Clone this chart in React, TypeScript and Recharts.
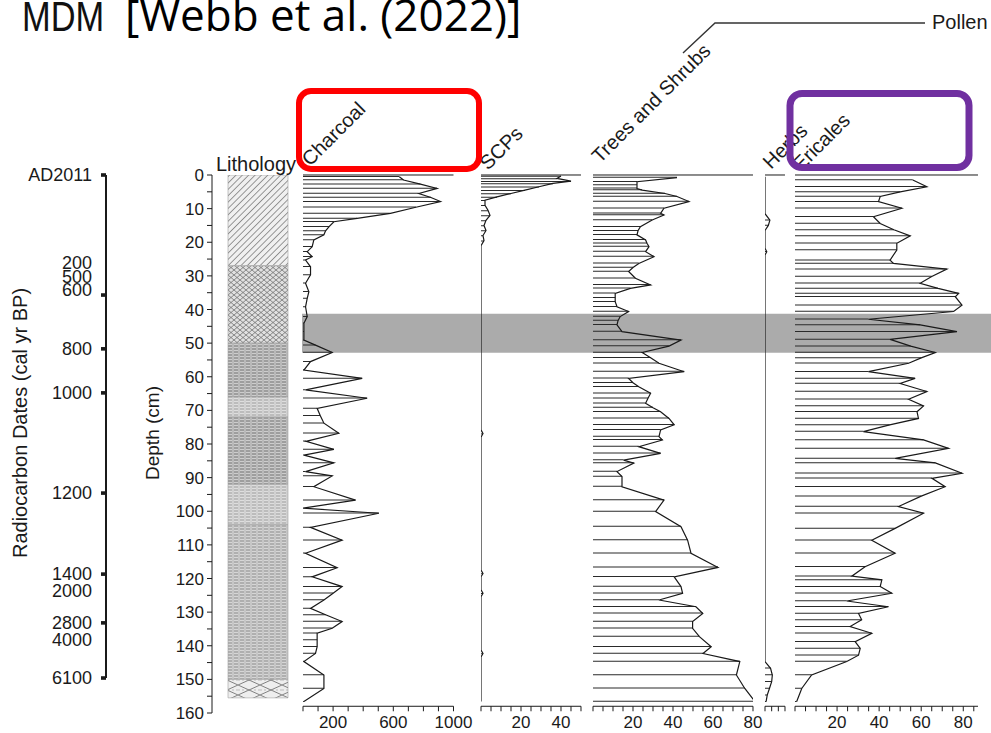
import React from 'react';
import { ComposedChart, BarChart, Bar, Line, XAxis, YAxis } from 'recharts';

// ---------------- data ----------------
const charcoalDepths = [0.5, 1.5, 2.7, 4.0, 5.5, 6.7, 7.9, 9.6, 11.4, 12.9, 13.9, 15.4, 16.6, 17.8, 19.3, 21.3, 22.8, 24.3, 25.3, 27.3, 29.7, 32.2, 34.7, 36.7, 39.2, 42.1, 44.1, 46.6, 49.1, 50.6, 52.8, 55.5, 58.0, 60.5, 63.9, 66.4, 69.4, 71.6, 73.8, 76.8, 79.2, 81.6, 83.3, 85.6, 88.2, 89.5, 92.7, 96.7, 99.1, 100.6, 104.8, 108.6, 112.5, 116.8, 119.5, 122.4, 124.4, 126.4, 128.9, 130.8, 132.8, 134.8, 136.3, 138.3, 140.3, 142.3, 144.7, 148.7, 152.7, 156.6];
const charcoalValues = [640, 668, 780, 891, 770, 850, 914, 750, 581, 360, 205, 172, 150, 139, 72, 61, 28, 61, 17, 50, 50, 17, 39, 28, 17, 28, 6, 6, 6, 83, 194, 50, 6, 393, 17, 426, 94, 115, 139, 238, 20, 205, 6, 205, 17, 194, 72, 349, 0, 504, 50, 260, 17, 227, 61, 260, 200, 139, 50, 150, 260, 194, 94, 94, 94, 83, 6, 139, 139, 6];
const charcoalTicks = [0, 100, 200, 300, 400, 500, 600, 700, 800, 900, 1000];
const charcoalTickLabels = [200, 600, 1000];

const scpDepths = [0.3, 1.0, 1.8, 2.5, 3.5, 4.5, 5.5, 6.5, 7.5, 9.0, 10.5, 12.0, 13.5, 15.0, 16.5, 18.0, 19.5, 21.0, 75.8, 76.9, 78.0, 117.5, 118.5, 119.5, 123.4, 124.4, 125.4, 141.3, 142.3, 143.3, 156.6];
const scpValues = [40, 38, 45, 36, 29, 22, 15, 8, 2, 2, 3.5, 4.5, 2.5, 1.5, 2.5, 1, 1.5, 0, 0, 1, 0, 0, 1, 0, 0, 1, 0, 0, 1, 0, 0];
const scpTicks = [0, 5, 10, 15, 20, 25, 30, 35, 40, 45, 50];
const scpTickLabels = [20, 40];

const treesDepths = [0.8, 2.0, 3.0, 4.0, 4.5, 5.5, 6.4, 7.9, 9.9, 11.4, 11.9, 13.4, 15.4, 16.6, 17.8, 19.3, 20.3, 21.3, 22.8, 24.3, 26.3, 27.5, 28.7, 30.7, 32.7, 33.7, 35.2, 36.5, 37.7, 39.2, 40.6, 42.1, 43.3, 44.6, 46.6, 49.1, 50.9, 52.8, 54.4, 56.0, 58.5, 60.5, 61.8, 63.0, 64.9, 66.4, 67.9, 69.2, 70.4, 72.4, 74.3, 75.8, 77.8, 78.8, 80.8, 82.8, 84.8, 85.7, 88.2, 89.7, 92.7, 96.7, 100.1, 104.6, 108.6, 112.5, 116.7, 119.5, 122.4, 124.4, 126.4, 128.4, 130.4, 132.8, 134.8, 137.3, 140.3, 142.3, 144.7, 148.7, 152.7, 156.6];
const treesValues = [42, 22, 22, 22, 24.6, 36, 42, 48, 35.5, 33.8, 35.5, 29.6, 23.7, 22.5, 22, 26.3, 27, 28, 26.3, 30.5, 22.9, 20, 17.8, 21.2, 28.8, 18.7, 11.1, 11.1, 11.1, 12, 17.8, 13.6, 12.5, 12, 14.5, 44, 38, 24.6, 29, 33, 45.6, 17.8, 20, 22.9, 28.8, 27.5, 26.3, 30, 33.8, 38, 40.6, 33.8, 33, 34.7, 22.9, 33.8, 15.3, 20.4, 12, 14.5, 14.5, 35.5, 31.3, 44, 47.3, 49, 62.5, 40.6, 44, 44.8, 33, 51.5, 54.9, 49.8, 49.8, 53.2, 59.1, 55, 73.4, 71.7, 75.9, 81];
const treesTicks = [0, 5, 10, 15, 20, 25, 30, 35, 40, 45, 50, 55, 60, 65, 70, 75, 80];
const treesTickLabels = [20, 40, 60, 80];

const herbsDepths = [0.5, 11.5, 13.4, 15.0, 16.5, 21.8, 22.8, 23.8, 144.7, 146.7, 148.7, 150.7, 152.7, 154.7, 156.6];
const herbsValues = [0, 0, 2.2, 1.5, 0, 0, 0.8, 0, 0, 2.5, 3.3, 3, 2, 1, 0.5];
const herbsTicks = [0, 3, 6, 9];
const herbsTickLabels: number[] = [];

const ericalesDepths = [1.5, 3.5, 5.0, 6.4, 7.9, 9.9, 12.4, 14.4, 16.3, 18.1, 20.3, 22.3, 25.3, 26.3, 28.0, 30.2, 32.2, 33.7, 35.2, 36.2, 38.7, 40.6, 42.9, 44.6, 46.6, 48.9, 50.9, 52.8, 54.4, 56.0, 58.5, 60.5, 62.0, 64.4, 66.7, 68.7, 70.4, 72.4, 74.3, 76.3, 78.8, 81.3, 84.3, 85.6, 88.7, 90.2, 92.7, 95.5, 98.6, 100.6, 105.1, 108.6, 112.5, 116.5, 119.3, 120.4, 122.4, 124.4, 126.7, 128.4, 130.4, 132.3, 134.3, 136.3, 138.8, 140.8, 142.8, 144.7, 148.7, 152.7, 156.6];
const ericalesValues = [56, 62.7, 50, 40.5, 39.7, 50.8, 37.3, 40.5, 47, 54.8, 48.4, 48.4, 45.2, 46.8, 72.2, 65, 59.5, 68, 77.8, 76.2, 79.4, 75.4, 34.9, 59.5, 77, 45.2, 55, 66.7, 60, 54, 34.9, 57.1, 50, 62.7, 54, 61.1, 58, 58.7, 45, 32.5, 61.1, 73, 47.6, 66.7, 79.4, 65.1, 71.4, 60, 49.2, 61.1, 47.6, 36.5, 47.6, 33.3, 27, 41.3, 40.5, 46, 24.6, 44.4, 30.2, 31.7, 26.2, 36.5, 28.6, 31, 30.2, 24.6, 7.9, 3.2, 0.8];
const ericalesTicks = [0, 5, 10, 15, 20, 25, 30, 35, 40, 45, 50, 55, 60, 65, 70, 75, 80, 85];
const ericalesTickLabels = [20, 40, 60, 80];

const depthTicks = [0, 5, 10, 15, 20, 25, 30, 35, 40, 45, 50, 55, 60, 65, 70, 75, 80, 85, 90, 95, 100, 105, 110, 115, 120, 125, 130, 135, 140, 145, 150, 155, 160];
const depthTickLabels = [0, 10, 20, 30, 40, 50, 60, 70, 80, 90, 100, 110, 120, 130, 140, 150, 160];

const radiocarbonLabels = ['AD2011', '200', '500', '600', '800', '1000', '1200', '1400', '2000', '2800', '4000', '6100'];
const radiocarbonLabelDepths = [0, 26.2, 30.3, 34.2, 51.7, 64.8, 94.6, 118.7, 123.7, 133.2, 138.2, 149.6];
const radiocarbonMarkDepths = [0, 35.7, 51.7, 64.8, 94.6, 118.7, 133.2, 149.6];

const lithologyUnits = ['u1', 'u2', 'u3', 'u4', 'u5', 'u6', 'u7', 'u8'];
const lithologyThickness = [27, 23, 16, 6, 20, 12, 46, 5.5];

const bandTop = 41.3;
const bandBottom = 52.9;

// ---------------- layout constants ----------------
const PX_PER_CM = 3.3625;
const TOP_Y = 175;
const PANEL_DEPTH_MAX = 158;
const FONT = "'Liberation Sans', Arial, sans-serif";
const INK = '#1a1a1a';

const lithPattern: Record<string, string> = {
  u1: 'lith-hatch',
  u2: 'lith-cross',
  u3: 'lith-dashDark',
  u4: 'lith-dashLight',
  u5: 'lith-dashDark',
  u6: 'lith-dashLight',
  u7: 'lith-dashMid',
  u8: 'lith-bigx',
};

type PanelProps = {
  x0: number;
  plotWidth: number;
  domainMax: number;
  ticks: number[];
  tickLabels: number[];
  depths: number[];
  values: number[];
};

function ProfilePanel({ x0, plotWidth, domainMax, ticks, tickLabels, depths, values }: PanelProps) {
  const ML = 12;
  const MR = 26;
  const TOPH = 8;
  const BOTH = 30;
  const plotH = PANEL_DEPTH_MAX * PX_PER_CM;
  const data = depths.map((d, i) => ({ depth: d, value: values[i] }));
  return (
    <div style={{ position: 'absolute', left: x0 - ML, top: TOP_Y - TOPH }}>
      <ComposedChart
        layout="vertical"
        width={ML + plotWidth + MR}
        height={TOPH + plotH + BOTH}
        data={data}
        margin={{ top: 0, right: MR, bottom: 0, left: ML }}
      >
        <XAxis
          xAxisId="top"
          orientation="top"
          type="number"
          domain={[0, domainMax]}
          ticks={ticks}
          interval={0}
          height={TOPH}
          tick={false}
          tickSize={4}
          axisLine={{ stroke: INK }}
          tickLine={{ stroke: INK }}
          allowDataOverflow
        />
        <XAxis
          xAxisId="bottom"
          orientation="bottom"
          type="number"
          domain={[0, domainMax]}
          ticks={ticks}
          interval={0}
          height={BOTH}
          tickSize={5}
          tickMargin={5}
          tickFormatter={(v: number) => (tickLabels.includes(v) ? String(v) : '')}
          tick={{ fontSize: 17, fill: INK, fontFamily: FONT }}
          axisLine={{ stroke: INK }}
          tickLine={{ stroke: INK }}
          allowDataOverflow
        />
        <YAxis
          yAxisId="d"
          type="number"
          dataKey="depth"
          domain={[0, PANEL_DEPTH_MAX]}
          width={0}
          tick={false}
          tickLine={false}
          axisLine={{ stroke: INK }}
          allowDataOverflow
        />
        <Bar xAxisId="bottom" yAxisId="d" dataKey="value" barSize={1} fill="#2a2a2a" isAnimationActive={false} />
        <Line
          xAxisId="bottom"
          yAxisId="d"
          dataKey="value"
          type="linear"
          stroke={INK}
          strokeWidth={1.2}
          dot={false}
          isAnimationActive={false}
        />
      </ComposedChart>
    </div>
  );
}

function RadiocarbonTick(props: any) {
  const { x, y, payload } = props;
  const v = payload.value;
  const li = radiocarbonLabelDepths.indexOf(v);
  const isMark = radiocarbonMarkDepths.includes(v);
  return (
    <g>
      {isMark && <rect x={x - 5} y={y - 1.8} width={5} height={3.6} fill={INK} />}
      {li >= 0 && (
        <text x={x - 14} y={y} dy="0.35em" textAnchor="end" fontSize={18} fontFamily={FONT} fill={INK}>
          {radiocarbonLabels[li]}
        </text>
      )}
    </g>
  );
}

export default function App() {
  const lithRow: Record<string, any> = { name: 'core' };
  lithologyUnits.forEach((u, i) => {
    lithRow[u] = lithologyThickness[i];
  });
  const radiocarbonTicks = Array.from(new Set([...radiocarbonLabelDepths, ...radiocarbonMarkDepths])).sort((a, b) => a - b);
  const rcData = radiocarbonLabelDepths.map((d, i) => ({ depth: d, label: radiocarbonLabels[i] }));
  const bandRow = { name: 'band', above: bandTop, band: bandBottom - bandTop };
  const panelPlotH = PANEL_DEPTH_MAX * PX_PER_CM;

  return (
    <div
      style={{
        position: 'absolute',
        left: 0,
        top: 0,
        width: 991,
        height: 733,
        background: '#ffffff',
        overflow: 'hidden',
        fontFamily: FONT,
      }}
    >
      <svg width={0} height={0} style={{ position: 'absolute' }}>
        <defs>
          <pattern id="lith-hatch" patternUnits="userSpaceOnUse" width={4.5} height={4.5} patternTransform="rotate(45)">
            <rect width={4.5} height={4.5} fill="#f0f0f0" />
            <line x1={0} y1={0} x2={0} y2={4.5} stroke="#808080" strokeWidth={1.6} />
          </pattern>
          <pattern id="lith-cross" patternUnits="userSpaceOnUse" width={6} height={5}>
            <rect width={6} height={5} fill="#e0e0e0" />
            <path d="M0,0 L3,2.5 L6,0 M0,5 L3,2.5 L6,5" stroke="#707070" strokeWidth={0.8} fill="none" />
          </pattern>
          <pattern id="lith-dashDark" patternUnits="userSpaceOnUse" width={6} height={3}>
            <rect width={6} height={3} fill="#cdcdcd" />
            <line x1={0} y1={1} x2={4} y2={1} stroke="#555" strokeWidth={0.8} />
            <line x1={5} y1={0} x2={5} y2={3} stroke="#888" strokeWidth={0.6} />
          </pattern>
          <pattern id="lith-dashMid" patternUnits="userSpaceOnUse" width={6} height={3}>
            <rect width={6} height={3} fill="#d6d6d6" />
            <line x1={0} y1={1} x2={4} y2={1} stroke="#666" strokeWidth={0.7} />
            <line x1={5} y1={0} x2={5} y2={3} stroke="#999" strokeWidth={0.5} />
          </pattern>
          <pattern id="lith-dashLight" patternUnits="userSpaceOnUse" width={6} height={3}>
            <rect width={6} height={3} fill="#dedede" />
            <line x1={0} y1={1} x2={4} y2={1} stroke="#7a7a7a" strokeWidth={0.7} />
            <line x1={5} y1={0} x2={5} y2={3} stroke="#aaa" strokeWidth={0.5} />
          </pattern>
          <pattern id="lith-bigx" patternUnits="userSpaceOnUse" width={22} height={10}>
            <rect width={22} height={10} fill="#eeeeee" />
            <path d="M0,0 L22,10 M22,0 L0,10" stroke="#666" strokeWidth={0.8} />
            <line x1={0} y1={5} x2={22} y2={5} stroke="#999" strokeWidth={0.6} strokeDasharray="2 2" />
          </pattern>
        </defs>
      </svg>

      {/* grey band (drawn as a stacked bar on the depth scale) */}
      <div style={{ position: 'absolute', left: 302, top: TOP_Y }}>
        <BarChart
          width={689}
          height={panelPlotH}
          data={[bandRow]}
          margin={{ top: 0, right: 0, bottom: 0, left: 0 }}
          barCategoryGap={0}
          barGap={0}
        >
          <XAxis dataKey="name" type="category" hide />
          <YAxis type="number" domain={[0, PANEL_DEPTH_MAX]} reversed hide allowDataOverflow />
          <Bar dataKey="above" stackId="b" fill="none" isAnimationActive={false} />
          <Bar dataKey="band" stackId="b" fill="#ababab" isAnimationActive={false} />
        </BarChart>
      </div>

      {/* radiocarbon axis */}
      <div style={{ position: 'absolute', left: 0, top: TOP_Y - 10 }}>
        <ComposedChart
          width={116}
          height={20 + 149.6 * PX_PER_CM}
          data={rcData}
          margin={{ top: 10, right: 0, bottom: 10, left: 0 }}
        >
          <XAxis dataKey="label" hide />
          <YAxis
            type="number"
            domain={[0, 149.6]}
            reversed
            ticks={radiocarbonTicks}
            interval={0}
            width={106}
            tickSize={0}
            tickMargin={0}
            tickLine={false}
            axisLine={{ stroke: INK, strokeWidth: 2 }}
            tick={<RadiocarbonTick />}
            allowDataOverflow
          />
        </ComposedChart>
      </div>

      {/* depth axis + lithology */}
      <div style={{ position: 'absolute', left: 150, top: TOP_Y - 10 }}>
        <BarChart
          width={154}
          height={20 + 160 * PX_PER_CM}
          data={[lithRow]}
          margin={{ top: 10, right: 0, bottom: 10, left: 0 }}
          barCategoryGap={0}
        >
          <XAxis dataKey="name" type="category" hide />
          <YAxis
            type="number"
            domain={[0, 160]}
            reversed
            ticks={depthTicks}
            interval={0}
            width={62}
            tickSize={5}
            tickMargin={3}
            tickFormatter={(v: number) => (depthTickLabels.includes(v) ? String(v) : '')}
            tick={{ fontSize: 17, fill: INK, fontFamily: FONT }}
            axisLine={{ stroke: INK }}
            tickLine={{ stroke: INK }}
            allowDataOverflow
          />
          {lithologyUnits.map((u) => (
            <Bar
              key={u}
              dataKey={u}
              stackId="lith"
              barSize={60}
              fill={`url(#${lithPattern[u]})`}
              stroke="#a0a0a0"
              strokeWidth={0.6}
              isAnimationActive={false}
            />
          ))}
        </BarChart>
      </div>

      <ProfilePanel x0={302.5} plotWidth={150.5} domainMax={1000} ticks={charcoalTicks} tickLabels={charcoalTickLabels} depths={charcoalDepths} values={charcoalValues} />
      <ProfilePanel x0={481} plotWidth={100} domainMax={50} ticks={scpTicks} tickLabels={scpTickLabels} depths={scpDepths} values={scpValues} />
      <ProfilePanel x0={593} plotWidth={160} domainMax={80} ticks={treesTicks} tickLabels={treesTickLabels} depths={treesDepths} values={treesValues} />
      <ProfilePanel x0={765} plotWidth={20} domainMax={9} ticks={herbsTicks} tickLabels={herbsTickLabels} depths={herbsDepths} values={herbsValues} />
      <ProfilePanel x0={795} plotWidth={183} domainMax={87} ticks={ericalesTicks} tickLabels={ericalesTickLabels} depths={ericalesDepths} values={ericalesValues} />

      {/* annotations */}
      <svg width={991} height={733} style={{ position: 'absolute', left: 0, top: 0, pointerEvents: 'none' }}>
        <text transform="translate(22,31) scale(0.8,1)" fontSize={43} fontFamily={FONT} fill="#111">
          MDM
        </text>
        <text x={125} y={31} fontSize={44} fontFamily="'Open Sans', sans-serif" fill="#000">
          [Webb et al. (2022)]
        </text>

        <text x={216} y={171} fontSize={20} fontFamily={FONT} fill={INK}>Lithology</text>
        <text transform="translate(310,167) rotate(-45)" fontSize={20} fontFamily={FONT} fill={INK}>Charcoal</text>
        <text transform="translate(488,171) rotate(-45)" fontSize={20} fontFamily={FONT} fill={INK}>SCPs</text>
        <text transform="translate(600,164) rotate(-45)" fontSize={20} fontFamily={FONT} fill={INK}>Trees and Shrubs</text>
        <text transform="translate(771,170) rotate(-45)" fontSize={20} fontFamily={FONT} fill={INK}>Herbs</text>
        <text transform="translate(801,172) rotate(-45)" fontSize={20} fontFamily={FONT} fill={INK}>Ericales</text>

        <polyline points="683,53 715,23 925,23" fill="none" stroke="#333" strokeWidth={1.4} />
        <text x={932} y={29} fontSize={20} fontFamily={FONT} fill={INK}>Pollen</text>

        <text transform="translate(27,423) rotate(-90)" textAnchor="middle" fontSize={20} fontFamily={FONT} fill={INK}>
          Radiocarbon Dates (cal yr BP)
        </text>
        <text transform="translate(159,433) rotate(-90)" textAnchor="middle" fontSize={19} fontFamily={FONT} fill={INK}>
          Depth (cm)
        </text>

        <rect x={299} y={91} width={180} height={78} rx={12} ry={12} fill="none" stroke="#ff0000" strokeWidth={6} />
        <rect x={790} y={93.5} width={179} height={74} rx={12} ry={12} fill="none" stroke="#7030a0" strokeWidth={7} />
      </svg>
    </div>
  );
}
